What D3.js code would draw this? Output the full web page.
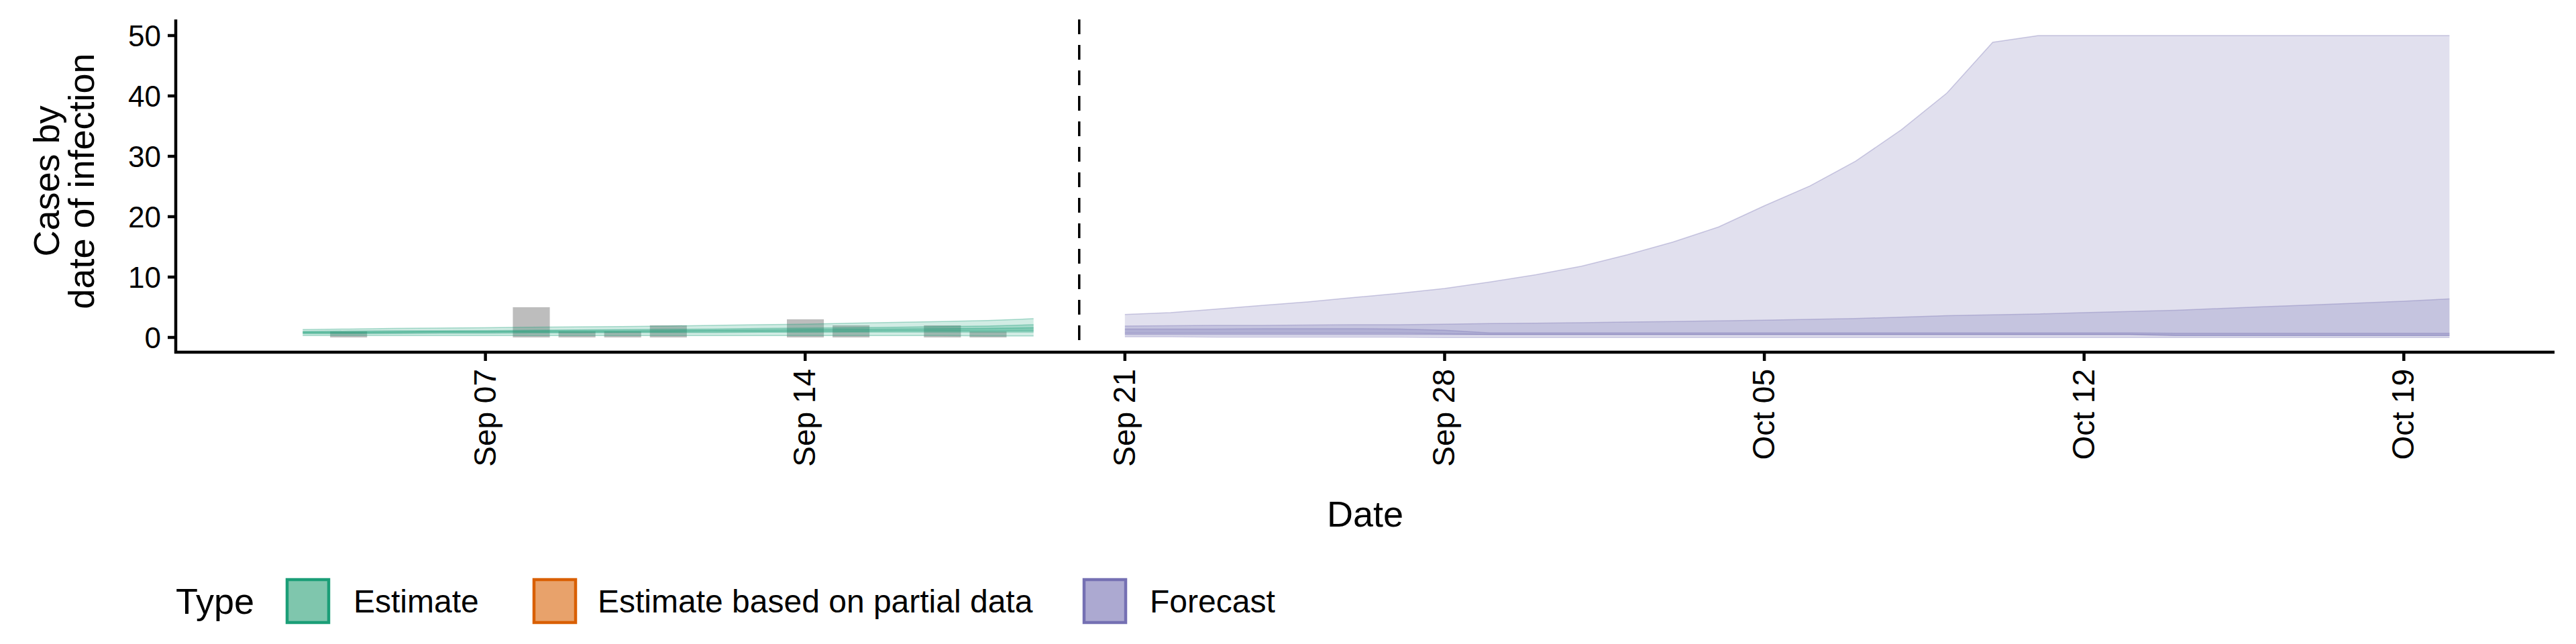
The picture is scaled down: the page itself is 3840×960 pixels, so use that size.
<!DOCTYPE html>
<html><head><meta charset="utf-8">
<script src="https://cdn.jsdelivr.net/npm/d3@7"></script>
<style>body{margin:0;background:#fff}</style>
</head><body>
<svg id="c" width="3840" height="960"></svg>
<script>
// Observed cases (grey bars)
const barDates = ["2020-09-04","2020-09-08","2020-09-09","2020-09-10","2020-09-11","2020-09-14","2020-09-15","2020-09-17","2020-09-18"];
const barValues = [1,5,1,1,2,3,2,2,1];
// Estimate (Sep 3 - Sep 19)
const estStart = "2020-09-03";
const estLo90 = [0.3,0.3,0.3,0.3,0.3,0.3,0.3,0.3,0.3,0.3,0.3,0.3,0.3,0.3,0.3,0.25,0.25];
const estHi90 = [1.3,1.4,1.5,1.55,1.6,1.7,1.75,1.8,1.9,2.0,2.1,2.2,2.35,2.5,2.65,2.8,3.1];
const estLo50 = [0.6,0.6,0.65,0.7,0.7,0.75,0.75,0.8,0.8,0.8,0.85,0.85,0.9,0.9,0.9,0.9,0.9];
const estHi50 = [1.0,1.05,1.1,1.1,1.15,1.2,1.25,1.3,1.35,1.4,1.5,1.55,1.6,1.7,1.8,1.9,2.1];
const estLo20 = [0.75,0.75,0.8,0.85,0.85,0.9,0.9,0.95,0.95,1.0,1.0,1.05,1.05,1.1,1.1,1.1,1.15];
const estHi20 = [0.9,0.9,0.95,1.0,1.0,1.05,1.1,1.1,1.15,1.2,1.25,1.3,1.35,1.4,1.45,1.5,1.6];
// Forecast (Sep 21 - Oct 20)
const fcStart = "2020-09-21";
const fcHi90 = [3.8,4.1,4.7,5.3,5.9,6.6,7.3,8.1,9.2,10.4,11.8,13.7,15.8,18.3,21.8,25.1,29.2,34.4,40.5,48.9,50,50,50,50,50,50,50,50,50,50];
const fcLo90 = [0.1,0.1,0.05,0.05,0.05,0.05,0.05,0,0,0,0,0,0,0,0,0,0,0,0,0,0,0,0,0,0,0,0,0,0,0];
const fcHi50 = [1.9,1.95,2.0,2.0,2.05,2.1,2.1,2.2,2.3,2.35,2.45,2.55,2.65,2.75,2.85,3.0,3.15,3.35,3.6,3.75,3.9,4.1,4.3,4.5,4.8,5.1,5.4,5.7,6.0,6.4];
const fcLo50 = [0.45,0.45,0.45,0.45,0.45,0.45,0.45,0.45,0.45,0.45,0.45,0.45,0.45,0.45,0.45,0.45,0.45,0.45,0.45,0.45,0.45,0.45,0.45,0.3,0.3,0.3,0.3,0.3,0.3,0.3];
const fcHi20 = [1.4,1.4,1.4,1.45,1.45,1.45,1.4,1.2,0.75,0.75,0.75,0.75,0.75,0.75,0.75,0.75,0.75,0.75,0.75,0.75,0.75,0.75,0.75,0.7,0.7,0.7,0.7,0.7,0.7,0.7];
const fcLo20 = [0.7,0.7,0.7,0.7,0.7,0.7,0.7,0.6,0.5,0.5,0.5,0.5,0.5,0.5,0.5,0.5,0.5,0.5,0.5,0.5,0.5,0.5,0.5,0.35,0.35,0.35,0.35,0.35,0.35,0.35];
const xTicks = ["2020-09-07","2020-09-14","2020-09-21","2020-09-28","2020-10-05","2020-10-12","2020-10-19"];
const yTicks = [0,10,20,30,40,50];
const forecastDate = "2020-09-20";
const legendTypes = ["Estimate","Estimate based on partial data","Forecast"];
const legendFill = ["#7fc6ad","#e8a26b","#aca9d1"];
const legendStroke = ["#1b9e77","#d95f02","#7570b3"];

const P = d3.timeParse("%Y-%m-%d");
const day = 864e5;
const svg = d3.select("#c");
const FONT = "'Liberation Sans', Arial, sans-serif";
const x = d3.scaleTime().domain([new Date(P("2020-09-07") - 6.78*day), new Date(+P("2020-09-07") + 45.3*day)]).range([262, 3808]);
const y = d3.scaleLinear().domain([0,50]).range([503,53]);
const yBottom = 525, yTop = 29;

function series(start, lo, hi){ const s=P(start); return lo.map((v,i)=>({d:new Date(+s+i*day), lo:v, hi:hi[i]})); }
const area = d3.area().x(d=>x(d.d)).y0(d=>y(d.lo)).y1(d=>y(d.hi));
const g = svg.append("g");

// bars
g.selectAll("rect.bar").data(barDates.map((d,i)=>({d:P(d),v:barValues[i]}))).join("rect")
  .attr("x",d=>x(new Date(+d.d-0.4*day))).attr("width",x(P("2020-09-08"))-x(P("2020-09-07"))-13)
  .attr("y",d=>y(d.v)).attr("height",d=>y(0)-y(d.v)).attr("fill","#bdbdbd");

const bands = [
  [estStart, estLo90, estHi90, "#1b9e77", 0.2],
  [estStart, estLo50, estHi50, "#1b9e77", 0.25],
  [estStart, estLo20, estHi20, "#1b9e77", 0.25],
  [fcStart, fcLo90, fcHi90, "#7570b3", 0.22],
  [fcStart, fcLo50, fcHi50, "#7570b3", 0.25],
  [fcStart, fcLo20, fcHi20, "#7570b3", 0.25]
];
bands.forEach(b=>{
  const data = series(b[0], b[1], b[2]);
  g.append("path").datum(data).attr("d",area).attr("fill",b[3]).attr("fill-opacity",b[4]);
  g.append("path").datum(data).attr("d",d3.line().x(d=>x(d.d)).y(d=>y(d.hi))).attr("fill","none").attr("stroke",b[3]).attr("stroke-opacity",0.35).attr("stroke-width",1.5);
  g.append("path").datum(data).attr("d",d3.line().x(d=>x(d.d)).y(d=>y(d.lo))).attr("fill","none").attr("stroke",b[3]).attr("stroke-opacity",0.35).attr("stroke-width",1.5);
});

// dashed vertical line
svg.append("line").attr("x1",x(P(forecastDate))).attr("x2",x(P(forecastDate))).attr("y1",yTop).attr("y2",yBottom)
  .attr("stroke","#000").attr("stroke-width",3.5).attr("stroke-dasharray","22,16");

// axes
svg.append("line").attr("x1",262).attr("x2",262).attr("y1",yTop).attr("y2",yBottom+2).attr("stroke","#000").attr("stroke-width",4.5);
svg.append("line").attr("x1",260).attr("x2",3808).attr("y1",yBottom).attr("y2",yBottom).attr("stroke","#000").attr("stroke-width",4.5);
const yAx = svg.append("g");
yTicks.forEach(t=>{
  yAx.append("line").attr("x1",250).attr("x2",262).attr("y1",y(t)).attr("y2",y(t)).attr("stroke","#000").attr("stroke-width",4.5);
  yAx.append("text").attr("x",240).attr("y",y(t)).attr("dy","0.36em").attr("text-anchor","end")
    .attr("font-family",FONT).attr("font-size",44).attr("fill","#000").text(t);
});
const fmt = d3.timeFormat("%b %d");
xTicks.forEach(t=>{
  const xx = x(P(t));
  svg.append("line").attr("x1",xx).attr("x2",xx).attr("y1",yBottom).attr("y2",yBottom+13).attr("stroke","#000").attr("stroke-width",4.5);
  svg.append("text").attr("transform",`translate(${xx+15},${yBottom+25}) rotate(-90)`).attr("text-anchor","end")
    .attr("font-family",FONT).attr("font-size",46).attr("fill","#000").text(fmt(P(t)));
});
svg.append("text").attr("x",2035).attr("y",785).attr("text-anchor","middle").attr("font-family",FONT).attr("font-size",54).text("Date");
const yt = svg.append("text").attr("transform","translate(0,270) rotate(-90)").attr("text-anchor","middle").attr("font-family",FONT).attr("font-size",54);
yt.append("tspan").attr("x",0).attr("y",88).text("Cases by");
yt.append("tspan").attr("x",0).attr("y",140).text("date of infection");

// legend
const ly = 896;
svg.append("text").attr("x",262).attr("y",ly).attr("dy","0.36em").attr("font-family",FONT).attr("font-size",54).text("Type");
const boxX = [428, 796, 1616], txtX = [527, 891, 1714];
legendTypes.forEach((t,i)=>{
  svg.append("rect").attr("x",boxX[i]).attr("y",ly-32).attr("width",62).attr("height",64)
    .attr("fill",legendFill[i]).attr("stroke",legendStroke[i]).attr("stroke-width",4.5);
  svg.append("text").attr("x",txtX[i]).attr("y",ly).attr("dy","0.36em").attr("font-family",FONT).attr("font-size",48).text(t);
});
</script>
</body></html>
